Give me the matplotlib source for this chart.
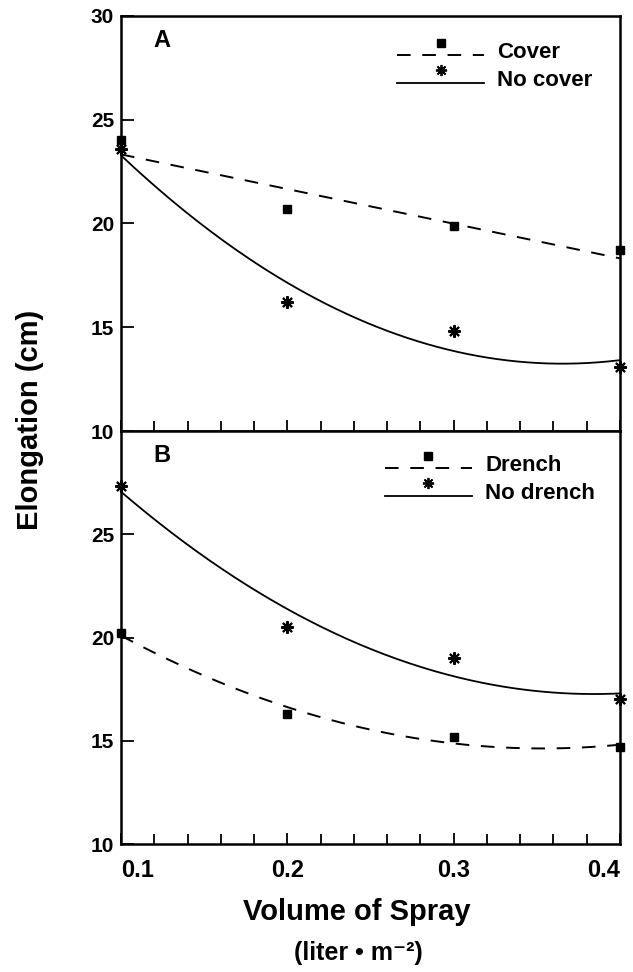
import numpy as np
import matplotlib
matplotlib.use("Agg")
import matplotlib.pyplot as plt
from matplotlib.lines import Line2D
from matplotlib.legend_handler import HandlerBase
from matplotlib.ticker import MultipleLocator

plt.rcParams['font.family'] = ['Liberation Sans', 'DejaVu Sans']
plt.rcParams['font.weight'] = 'bold'

# ---- data ----
volume = [0.1, 0.2, 0.3, 0.4]
cover = [24.0, 20.7, 19.9, 18.7]
no_cover = [23.6, 16.2, 14.8, 13.1]
drench = [20.2, 16.3, 15.2, 14.7]
no_drench = [27.35, 20.5, 19.0, 17.0]
fit_degree_cover = 1
fit_degree_no_cover = 2
fit_degree_drench = 2
fit_degree_no_drench = 2
xtick_labels = ['0.1', '0.2', '0.3', '0.4']
ytick_values_a = [10, 15, 20, 25, 30]
ytick_values_b = [10, 15, 20, 25]

DASH = (0, (7, 6))


class RaisedMarkerHandler(HandlerBase):
    def create_artists(self, legend, orig_handle, xdescent, ydescent,
                       width, height, fontsize, trans):
        ly = 0.2 * height - ydescent
        line = Line2D([-xdescent, width - xdescent], [ly, ly])
        line.update_from(orig_handle)
        line.set_marker('None')
        mk = Line2D([0.5 * width - xdescent], [ly + 0.8 * height],
                    marker=orig_handle.get_marker(), linestyle='none',
                    markersize=orig_handle.get_markersize(),
                    markeredgewidth=orig_handle.get_markeredgewidth(),
                    color=orig_handle.get_color())
        line.set_transform(trans)
        mk.set_transform(trans)
        return [line, mk]


W, H = 633, 972
fig = plt.figure(figsize=(W / 100, H / 100), dpi=100)
left, right = 121 / W, 620 / W
axA = fig.add_axes([left, 1 - 431 / H, right - left, (431 - 16) / H])
axB = fig.add_axes([left, 1 - 844 / H, right - left, (844 - 431) / H])

x = np.array(volume)
xs = np.linspace(x.min(), x.max(), 200)

sq = dict(marker='s', markersize=5.5, color='black', linestyle='none', clip_on=False, zorder=5)
ast = dict(marker=(8, 2, 0), markersize=9, markeredgewidth=1.5, color='black',
           linestyle='none', clip_on=False, zorder=5)


def draw(ax, ya, deg_a, yb, deg_b):
    ya = np.array(ya)
    yb = np.array(yb)
    ca = np.polyfit(x, ya, deg_a)
    cb = np.polyfit(x, yb, deg_b)
    ax.plot(xs, np.polyval(ca, xs), color='black', lw=1.4,
            linestyle=DASH, clip_on=False)
    ax.plot(xs, np.polyval(cb, xs), color='black', lw=1.3,
            linestyle='-', clip_on=False)
    ax.plot(x, ya, **sq)
    ax.plot(x, yb, **ast)
    ha = Line2D([], [], color='black', lw=1.4, linestyle=DASH, marker='s',
                markersize=5.5)
    hb = Line2D([], [], color='black', lw=1.3, linestyle='-', marker=(8, 2, 0),
                markersize=8, markeredgewidth=1.3)
    return ha, hb


legend_kw = dict(loc='upper right', frameon=False, fontsize=16,
                 handlelength=3.9, handletextpad=0.6, labelspacing=0.3,
                 handler_map={Line2D: RaisedMarkerHandler()})

ha, hb = draw(axA, cover, fit_degree_cover, no_cover, fit_degree_no_cover)
axA.legend([ha, hb], ['Cover', 'No cover'], bbox_to_anchor=(0.985, 0.985), **legend_kw)

hc, hd = draw(axB, drench, fit_degree_drench, no_drench, fit_degree_no_drench)
axB.legend([hc, hd], ['Drench', 'No drench'], bbox_to_anchor=(0.99, 0.99), **legend_kw)

for ax, yt in ((axA, ytick_values_a), (axB, ytick_values_b)):
    ax.set_xlim(0.1, 0.4)
    ax.set_ylim(10, 30)
    ax.set_yticks(yt)
    ax.set_yticklabels([str(v) for v in yt], fontsize=15, fontweight='bold')
    ax.xaxis.set_minor_locator(MultipleLocator(0.02))
    ax.set_xticks(volume)
    ax.tick_params(axis='both', which='both', direction='in', top=False, right=False)
    ax.tick_params(axis='y', which='major', length=9, width=1.3, pad=5)
    ax.tick_params(axis='x', which='major', length=8, width=1.3)
    ax.tick_params(axis='x', which='minor', length=7, width=1.3)
    for s in ax.spines.values():
        s.set_linewidth(1.8)

axA.set_xticklabels([])
axB.set_xticklabels(xtick_labels, fontsize=17, fontweight='bold')
axB.tick_params(axis='x', which='major', pad=11)
labs = axB.get_xticklabels()
labs[0].set_ha('left')
labs[-1].set_ha('right')

axA.text(0.065, 0.94, 'A', transform=axA.transAxes, fontsize=17,
         fontweight='bold', va='center', ha='left')
axB.text(0.065, 0.94, 'B', transform=axB.transAxes, fontsize=17,
         fontweight='bold', va='center', ha='left')

fig.text(30 / W, 1 - 420 / H, 'Elongation (cm)', rotation=90, fontsize=21,
         fontweight='bold', ha='center', va='center')
fig.text(357 / W, 1 - 912 / H, 'Volume of Spray', fontsize=21,
         fontweight='bold', ha='center', va='center')
fig.text(358 / W, 1 - 953 / H, '(liter \u2022 m\u207b\u00b2)', fontsize=18,
         fontweight='bold', ha='center', va='center')

fig.savefig('out.png', dpi=100)
